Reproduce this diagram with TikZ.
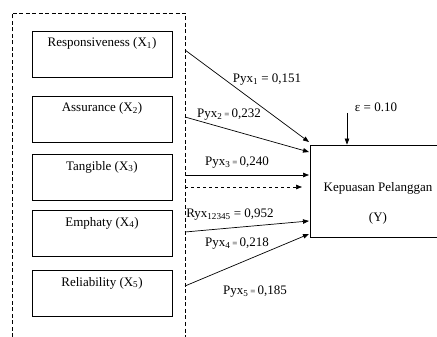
\documentclass[tikz,border=0pt]{standalone}
\usepackage{fontspec}
\setmainfont{Liberation Serif}
\usetikzlibrary{arrows.meta}

\begin{document}
\begin{tikzpicture}[x=1pt,y=-1pt,
    font=\fontsize{13}{15}\selectfont,
    varbox/.style={draw, line width=0.8pt, minimum width=140pt, minimum height=46pt, inner sep=0pt},
    lbl/.style={inner sep=0pt},
    link/.style={line width=0.7pt, -{Triangle[length=6pt,width=4.5pt]}}]
        \clip (0,0) rectangle (437,337);

        % dashed frame round the X variables
        \draw[dash pattern=on 4pt off 2.5pt, line width=0.7pt] (12,350) -- (12,13) -- (185,13) -- (185,350);

        \node[varbox] (x1) at (102,54.5) {};
        \node[varbox] (x2) at (102,119) {};
        \node[varbox] (x3) at (102,177.5) {};
        \node[varbox] (x4) at (102,233.5) {};
        \node[varbox] (x5) at (102,293.5) {};

        \node[lbl] (x1text) at (102,43) {Responsiveness (X\textsubscript{1})};
        \node[lbl] (x2text) at (102,108) {Assurance (X\textsubscript{2})};
        \node[lbl] (x3text) at (102,167) {Tangible (X\textsubscript{3})};
        \node[lbl] (x4text) at (102,223) {Emphaty (X\textsubscript{4})};
        \node[lbl] (x5text) at (102,283) {Reliability (X\textsubscript{5})};

        \node[draw, line width=0.8pt, minimum width=132pt, minimum height=92pt, inner sep=0pt] (y) at (376,191) {};
        \node[lbl] (ytext) at (378,188) {Kepuasan Pelanggan};
        \node[lbl] (ysym) at (378,218) {(Y)};

        \coordinate (s1) at (185,50);
        \coordinate (s2) at (185,117);
        \coordinate (s3) at (185,175);
        \coordinate (s4) at (185,187);
        \coordinate (s5) at (185,232);
        \coordinate (s6) at (185,286);

        \coordinate (e1) at (309,142);
        \coordinate (e2) at (309,152);
        \coordinate (e3) at (309,175);
        \coordinate (e4) at (302,187);
        \coordinate (e5) at (309,221);
        \coordinate (e6) at (309,234);
        \coordinate (epstop) at (347,113);

        \draw[link] (s1) -- (e1);
        \draw[link] (s2) -- (e2);
        \draw[link] (s3) -- (e3);
        \draw[link, dashed] (s4) -- (e4);
        \draw[link] (s5) -- (e5);
        \draw[link] (s6) -- (e6);
        \draw[link] (epstop) -- (epstop |- y.north);

        \node[lbl] (p1) at (267,80) {Pyx\textsubscript{1} = 0,151};
        \node[lbl] (p2) at (229,115) {Pyx\textsubscript{2}\,{\small=}\,0,232};
        \node[lbl] (p3) at (237,163) {Pyx\textsubscript{3}\,{\small=}\,0,240};
        \node[lbl] (r) at (230,215) {Ryx\textsubscript{12345} = 0,952};
        \node[lbl] (p4) at (237,244) {Pyx\textsubscript{4}\,{\small=}\,0,218};
        \node[lbl] (p5) at (255,292) {Pyx\textsubscript{5}\,{\small=}\,0,185};
        \node[lbl] (eps) at (376,107) {ε = 0.10};

\end{tikzpicture}
\end{document}
